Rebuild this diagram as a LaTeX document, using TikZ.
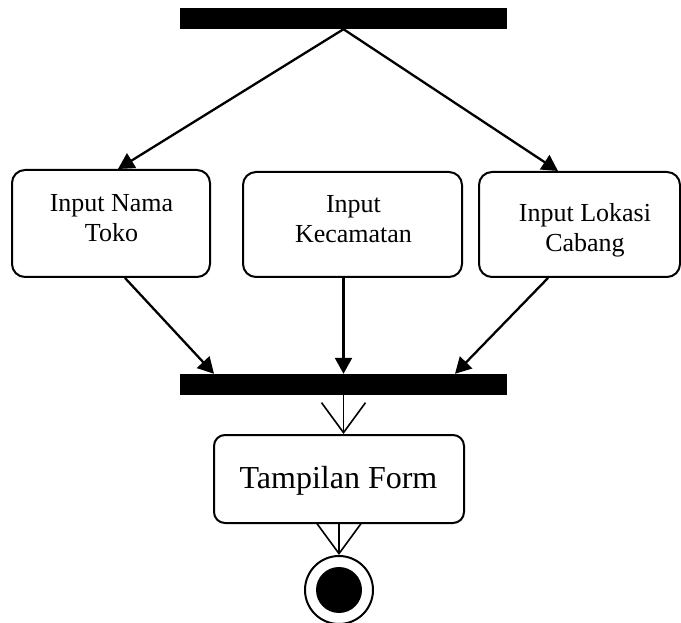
\documentclass[tikz,border=0pt]{standalone}
\usepackage{fontspec}
\setmainfont{Liberation Serif}
\usetikzlibrary{arrows.meta}
\begin{document}
\begin{tikzpicture}[x=1pt,y=-1pt,
  bar/.style={fill=black, draw=none, inner sep=0, minimum width=327pt, minimum height=21pt},
  act/.style={draw, line width=2pt, rounded corners=13pt, inner sep=0},
  lbl/.style={align=center, font=\fontsize{26}{30}\selectfont, inner sep=0},
  flow/.style={line width=2.3pt, -{Triangle[length=16pt,width=17pt]}},
  openflow/.style={line width=1.6pt, -{Straight Barb[length=30pt,width=44pt,line width=1.6pt]}},
]
\useasboundingbox (0,0) rectangle (681,623);

% fork and join bars
\node[bar] (fork) at (343.5,18.5) {};
\node[bar] (join) at (343.5,384.5) {};

% the three parallel input activities
\node[act, minimum width=198pt, minimum height=107pt] (toko) at (111,223.5) {};
\node[act, minimum width=219pt, minimum height=105pt] (kec) at (352.5,224.5) {};
\node[act, minimum width=201pt, minimum height=105pt] (lok) at (579.5,224.5) {};
\node[lbl] (ttoko) at (111.5,218.5) {Input Nama\\Toko};
\node[lbl] (tkec) at (353.5,219.5) {Input\\Kecamatan};
\node[lbl] (tlok) at (585,230) {Input Lokasi\\Cabang};

% form display activity
\node[act, rounded corners=11pt, minimum width=250pt, minimum height=88pt] (form) at (339,479) {};
\node[anchor=base, inner sep=0, font=\fontsize{32}{38}\selectfont] (tform) at (338.5,488) {Tampilan Form};

% final node
\node[circle, draw, line width=2pt, minimum size=68pt, inner sep=0] (final) at (339,590) {};
\fill (final.center) circle (23pt);

% fork to activities
\draw[flow] (fork.south) -- ([xshift=7pt]toko.north);
\draw[flow] (fork.south) -- ([xshift=-21.5pt]lok.north);

% activities to join
\draw[flow] ([xshift=14pt]toko.south) -- ([xshift=-129.5pt]join.north);
\draw[flow] (join.north |- kec.south) -- (join.north);
\draw[flow] ([xshift=-31.5pt]lok.south) -- ([xshift=111.5pt]join.north);

% join to form, form to end
\draw[openflow] (join.south) -- (join.south |- form.north);
\draw[openflow] (form.south) -- (final.north);
\end{tikzpicture}
\end{document}
